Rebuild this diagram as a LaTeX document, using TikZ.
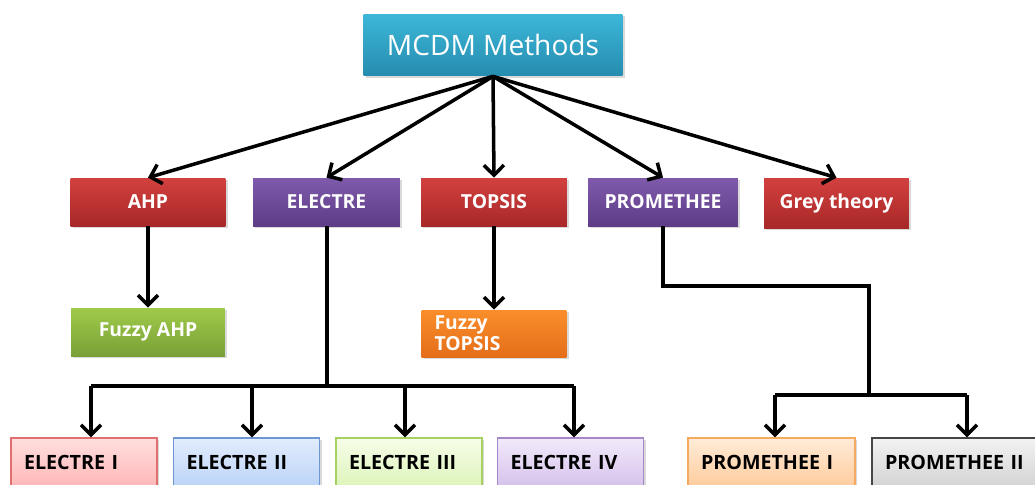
\documentclass[tikz,border=0pt]{standalone}
\usepackage{fontspec}
\setmainfont{Open Sans}
\usepackage{tikz}
\usetikzlibrary{arrows.meta}
\usetikzlibrary{shadows}

\definecolor{cyanT}{RGB}{60,183,216}
\definecolor{cyanB}{RGB}{38,140,175}
\definecolor{redT}{RGB}{210,64,62}
\definecolor{redB}{RGB}{168,40,40}
\definecolor{purT}{RGB}{127,90,172}
\definecolor{purB}{RGB}{94,60,134}
\definecolor{grnT}{RGB}{160,202,74}
\definecolor{grnB}{RGB}{120,160,55}
\definecolor{orgT}{RGB}{250,142,42}
\definecolor{orgB}{RGB}{228,110,25}

\tikzset{
    box/.style={minimum height=0.96cm, inner sep=0pt, text=white,
        font=\fontsize{11}{13}\selectfont\bfseries,
        drop shadow={shadow xshift=1.2pt, shadow yshift=-1.2pt, opacity=0.3}},
    redbox/.style={box, top color=redT, bottom color=redB},
    purbox/.style={box, top color=purT, bottom color=purB},
    leaf/.style={box, text=black, align=left, inner xsep=0.26cm, text width=2.4cm,
        font=\fontsize{11.2}{13}\selectfont\bfseries, line width=0.8pt},
    branch/.style={line width=2pt, line join=miter},
    arr/.style={branch, -{Straight Barb[length=2mm, width=4mm]}}}

\begin{document}
\begin{tikzpicture}[x=0.02cm, y=-0.02cm]
        \useasboundingbox (0,0) rectangle (1035,484);
        \clip (0,0) rectangle (1035,484);

                    \node[box, minimum width=5.18cm, minimum height=1.24cm, top color=cyanT, bottom color=cyanB, font=\fontsize{16}{18}\selectfont] (mcdm) at (493,45) {MCDM Methods};

                    \node[redbox, minimum width=3.1cm] (ahp) at (148,202) {AHP};
                    \node[purbox, minimum width=2.94cm] (electre) at (326.5,202) {ELECTRE};
                    \node[redbox, minimum width=2.92cm] (topsis) at (494,202) {TOPSIS};
                    \node[purbox, minimum width=3.0cm] (promethee) at (663,202) {PROMETHEE};
                    \node[redbox, minimum width=2.9cm, minimum height=1.0cm] (grey) at (836.5,203) {Grey theory};

                    \node[box, minimum width=3.08cm, top color=grnT, bottom color=grnB] (fahp) at (148,332) {Fuzzy AHP};
                    \node[box, text width=2.38cm, inner xsep=0.26cm, align=left, minimum height=0.94cm, top color=orgT, bottom color=orgB, font=\fontsize{11}{12}\selectfont\bfseries] (ftopsis) at (494,333.5) {Fuzzy\\TOPSIS};

                    \node[leaf, draw={rgb,255:red,224;green,112;blue,112}, top color={rgb,255:red,255;green,222;blue,222}, bottom color={rgb,255:red,255;green,184;blue,184}] (e1) at (84,462) {ELECTRE I};
                    \node[leaf, draw={rgb,255:red,110;green,150;blue,210}, top color={rgb,255:red,226;green,236;blue,252}, bottom color={rgb,255:red,188;green,212;blue,248}] (e2) at (246.5,462) {ELECTRE II};
                    \node[leaf, draw={rgb,255:red,166;green,210;blue,100}, top color={rgb,255:red,246;green,253;blue,232}, bottom color={rgb,255:red,222;green,244;blue,188}] (e3) at (409,462) {ELECTRE III};
                    \node[leaf, draw={rgb,255:red,166;green,136;blue,200}, top color={rgb,255:red,242;green,234;blue,250}, bottom color={rgb,255:red,214;green,194;blue,236}] (e4) at (570.5,462) {ELECTRE IV};
                    \node[leaf, text width=2.82cm, draw={rgb,255:red,245;green,170;blue,95}, top color={rgb,255:red,255;green,236;blue,216}, bottom color={rgb,255:red,255;green,204;blue,158}] (p1) at (771.5,462) {PROMETHEE I};
                    \node[leaf, text width=3.28cm, draw={rgb,255:red,70;green,70;blue,70}, top color={rgb,255:red,242;green,242;blue,242}, bottom color={rgb,255:red,212;green,212;blue,212}] (p2) at (967,462) {PROMETHEE II};

                    % top level
                    \draw[arr] (mcdm.south) -- (ahp.north);
                    \draw[arr] (mcdm.south) -- (electre.north);
                    \draw[arr] (mcdm.south) -- (topsis.north);
                    \draw[arr] (mcdm.south) -- (promethee.north);
                    \draw[arr] (mcdm.south) -- (grey.north);

                    \draw[arr] (ahp.south) -- (fahp.north);
                    \draw[arr] (topsis.south) -- (ftopsis.north);

                    % electre family
                    \coordinate (ebus) at (327,386);
                    \coordinate (eb1) at (91,386);
                    \coordinate (eb2) at (252,386);
                    \coordinate (eb3) at (405,386);
                    \coordinate (eb4) at (574,386);
                    \draw[branch] (electre.south -| ebus) -- (ebus);
                    \draw[branch] (eb1) -- (eb4);
                    \draw[arr] (eb1) -- (eb1 |- e1.north);
                    \draw[arr] (eb2) -- (eb2 |- e2.north);
                    \draw[arr] (eb3) -- (eb3 |- e3.north);
                    \draw[arr] (eb4) -- (eb4 |- e4.north);

                    % promethee family
                    \coordinate (pk1) at (663,286);
                    \coordinate (pk2) at (869,286);
                    \coordinate (pbus) at (869,395);
                    \coordinate (pb1) at (775,395);
                    \coordinate (pb2) at (967,395);
                    \draw[branch] (promethee.south) -- (pk1) -- (pk2) -- (pbus);
                    \draw[branch] (pb1) -- (pb2);
                    \draw[arr] (pb1) -- (pb1 |- p1.north);
                    \draw[arr] (pb2) -- (pb2 |- p2.north);

                \end{tikzpicture}
\end{document}
